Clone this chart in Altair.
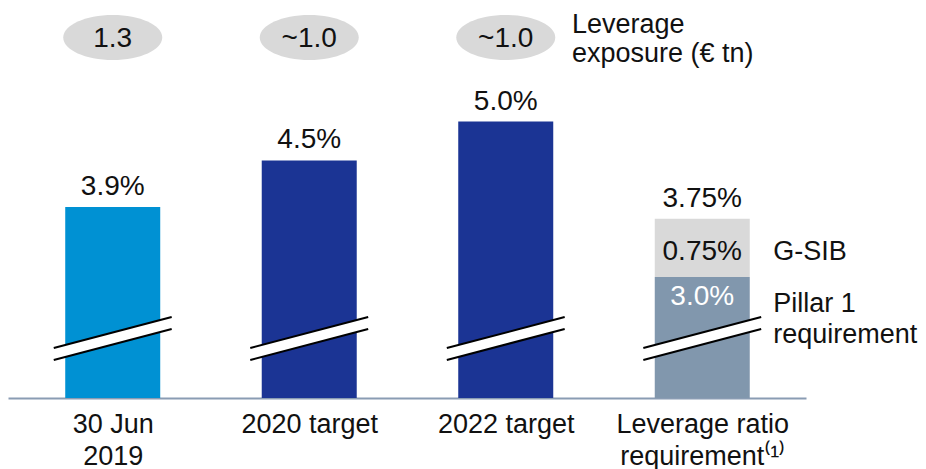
import json
import altair as alt
import pandas as pd

# ---------------- data ----------------
CATEGORIES = ["30 Jun|2019", "2020 target", "2022 target", "Leverage ratio|requirement\u207d\u00b9\u207e"]
BAR_VALUES = [3.9, 4.5, 5.0, 3.0]          # main bar heights (%)
GSIB_ADDON = 0.75                          # G-SIB buffer stacked on Pillar 1
VALUE_LABELS = ["3.9%", "4.5%", "5.0%", "3.75%"]
EXPOSURE = ["1.3", "~1.0", "~1.0"]         # leverage exposure (EUR tn)
BAR_COLORS = ["#0091d3", "#1b3494", "#1b3494", "#8197ad"]
GSIB_COLOR = "#d9d9d9"

FONT = "Liberation Sans"
BASE = 1.442          # broken-axis baseline value
YTOP = 6.461
XMIN, XMAX = -0.5075, 3.5025

# ---------------- tables ----------------
idx = list(range(len(CATEGORIES)))
bars = pd.DataFrame({
    "x": idx + [3],
    "lo": [BASE] * 4 + [BAR_VALUES[3]],
    "hi": BAR_VALUES + [BAR_VALUES[3] + GSIB_ADDON],
    "color": BAR_COLORS + [GSIB_COLOR],
})

top_vals = [BAR_VALUES[0], BAR_VALUES[1], BAR_VALUES[2], BAR_VALUES[3] + GSIB_ADDON]
above = pd.DataFrame({"x": idx, "y": top_vals, "label": VALUE_LABELS})

# break marks (decoration across each bar)
brk_rows = []
for i in idx:
    for side, off in (("l", -0.3), ("r", 0.3)):
        brk_rows.append({
            "x": i + off,
            "lo": 1.931 if side == "l" else 2.33,
            "hi": 2.085 if side == "l" else 2.484,
            "bar": i,
        })
brk = pd.DataFrame(brk_rows)
brk_lines = pd.concat([
    brk.assign(y=brk["lo"], key=brk["bar"].astype(str) + "lo"),
    brk.assign(y=brk["hi"], key=brk["bar"].astype(str) + "hi"),
])

expo = pd.DataFrame({"x": idx[:3], "label": EXPOSURE})

label_expr = "split(" + json.dumps(CATEGORIES, ensure_ascii=False) + "[datum.value], '|')"

X_AXIS = alt.Axis(
    values=idx, labelExpr=label_expr, title=None, ticks=False, tickSize=0,
    grid=False, domainColor="#8a9cb3", domainWidth=2, labelFont=FONT,
    labelFontSize=27, labelColor="#111111", labelPadding=13,
    labelLineHeight=32, labelAngle=0,
)
XS = alt.Scale(domain=[XMIN, XMAX], nice=False, zero=False)
YS = alt.Scale(domain=[BASE, YTOP], nice=False, zero=False)


def X(field="x"):
    return alt.X(f"{field}:Q", scale=XS, axis=X_AXIS)


def Y(field):
    return alt.Y(f"{field}:Q", scale=YS, axis=None)


bar_layer = alt.Chart(bars).mark_bar(size=95).encode(
    x=X(), y=Y("lo"), y2="hi:Q", color=alt.Color("color:N", scale=None)
)

brk_area = alt.Chart(brk).mark_area(color="white", opacity=1).encode(
    x=X(), y=Y("lo"), y2="hi:Q", detail="bar:N"
)
brk_line = alt.Chart(brk_lines).mark_line(color="#000000", strokeWidth=2).encode(
    x=X(), y=Y("y"), detail="key:N"
)

above_txt = alt.Chart(above).mark_text(
    font=FONT, fontSize=28, color="#111111", baseline="alphabetic", dy=-12
).encode(x=X(), y=Y("y"), text="label:N")

seg = pd.DataFrame({
    "x": [3, 3],
    "y": [BAR_VALUES[3] + GSIB_ADDON / 2, BAR_VALUES[3]],
    "label": [f"{GSIB_ADDON:.2f}%", f"{BAR_VALUES[3]:.1f}%"],
    "color": ["#111111", "#ffffff"],
    "dy": [12, 28],
})
seg_txt1 = alt.Chart(seg.iloc[[0]]).mark_text(
    font=FONT, fontSize=28, baseline="alphabetic", dy=12
).encode(x=X(), y=Y("y"), text="label:N", color=alt.Color("color:N", scale=None))
seg_txt2 = alt.Chart(seg.iloc[[1]]).mark_text(
    font=FONT, fontSize=28, baseline="alphabetic", dy=28
).encode(x=X(), y=Y("y"), text="label:N", color=alt.Color("color:N", scale=None))

side = pd.DataFrame({
    "x": [3, 3],
    "y": [BAR_VALUES[3] + GSIB_ADDON / 2, BAR_VALUES[3]],
    "label": [["G-SIB"], ["Pillar 1", "requirement"]],
})
side_txt1 = alt.Chart(side.iloc[[0]]).mark_text(
    font=FONT, fontSize=27, color="#111111", align="left", baseline="alphabetic",
    dx=71, dy=12
).encode(x=X(), y=Y("y"), text="label")
side_txt2 = alt.Chart(side.iloc[[1]]).mark_text(
    font=FONT, fontSize=27, color="#111111", align="left", baseline="alphabetic",
    dx=71, dy=35, lineHeight=31
).encode(x=X(), y=Y("y"), text="label")

k = 0.5523
ry = 45 / 99
ELLIPSE = (
    f"M-1,0 C-1,{-k*ry:.4f} {-k:.4f},{-ry:.4f} 0,{-ry:.4f} "
    f"C{k:.4f},{-ry:.4f} 1,{-k*ry:.4f} 1,0 "
    f"C1,{k*ry:.4f} {k:.4f},{ry:.4f} 0,{ry:.4f} "
    f"C{-k:.4f},{ry:.4f} -1,{k*ry:.4f} -1,0 Z"
)
ell = alt.Chart(expo).mark_point(
    shape=ELLIPSE, filled=True, fill="#d9d9d9", stroke=None, strokeWidth=0,
    size=99 * 99, opacity=1
).encode(x=X(), y=alt.value(29.5))
ell_txt = alt.Chart(expo).mark_text(
    font=FONT, fontSize=28, color="#111111", baseline="alphabetic"
).encode(x=X(), y=alt.value(39), text="label:N")

legend_note = alt.Chart(pd.DataFrame({"t": [["Leverage", "exposure (\u20ac tn)"]]})).mark_text(
    font=FONT, fontSize=27, color="#111111", align="left", baseline="alphabetic",
    lineHeight=29
).encode(x=alt.value(564), y=alt.value(25), text="t")

chart = alt.layer(
    bar_layer, brk_area, brk_line, above_txt, seg_txt1, seg_txt2,
    side_txt1, side_txt2, ell, ell_txt, legend_note
).properties(width=798, height=390, padding=0).configure_view(stroke=None)

chart.save("out.html", embed_options={"renderer": "svg", "actions": False})
